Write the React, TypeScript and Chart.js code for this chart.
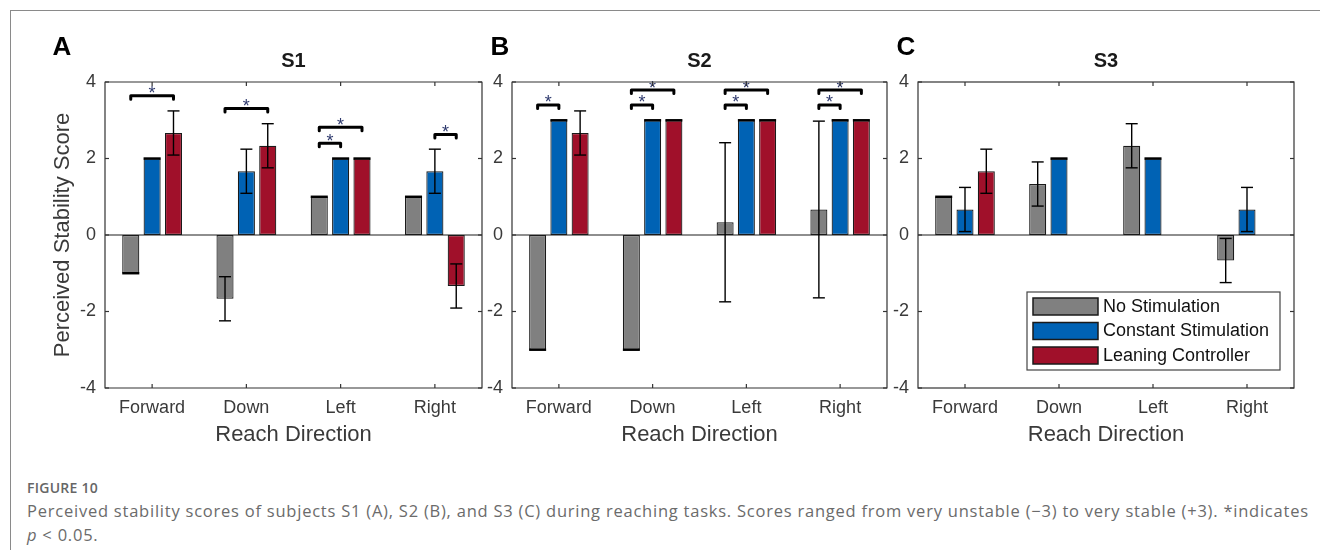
import React, { useEffect, useRef } from 'react';
import { Chart, registerables } from 'chart.js';

Chart.register(...registerables);

// ---- data ----
const directions = ['Forward', 'Down', 'Left', 'Right'];
const conditionNames = ['No Stimulation', 'Constant Stimulation', 'Leaning Controller'];
const conditionColors = ['#808080', '#0062b4', '#a0102a'];
const yTickValues = [-4, -2, 0, 2, 4];

// Subject S1: mean scores and error bar half-lengths
const s1NoStim = [-1, -1.667, 1, 1];
const s1Constant = [2, 1.667, 2, 1.667];
const s1Leaning = [2.667, 2.333, 2, -1.333];
const s1NoStimErr = [0, 0.577, 0, 0];
const s1ConstantErr = [0, 0.577, 0, 0.577];
const s1LeaningErr = [0.577, 0.577, 0, 0.577];

// Subject S2
const s2NoStim = [-3, -3, 0.333, 0.667];
const s2Constant = [3, 3, 3, 3];
const s2Leaning = [2.667, 3, 3, 3];
const s2NoStimErr = [0, 0, 2.08, 2.31];
const s2ConstantErr = [0, 0, 0, 0];
const s2LeaningErr = [0.577, 0, 0, 0];

// Subject S3 (no leaning-controller trials except Forward)
const s3NoStim = [1, 1.333, 2.333, -0.667];
const s3Constant = [0.667, 2, 2, 0.667];
const s3Leaning: (number | null)[] = [1.667, null, null, null];
const s3NoStimErr = [0, 0.577, 0.577, 0.577];
const s3ConstantErr = [0.577, 0, 0, 0.577];
const s3LeaningErr: (number | null)[] = [0.577, null, null, null];

// Significance brackets: [direction index, from condition, to condition, bracket height]
const s1Brackets: [number, number, number, number][] = [
  [0, 0, 2, 3.64],
  [1, 0, 2, 3.31],
  [2, 0, 1, 2.4],
  [2, 0, 2, 2.82],
  [3, 1, 2, 2.63],
];
const s2Brackets: [number, number, number, number][] = [
  [0, 0, 1, 3.4],
  [1, 0, 1, 3.4],
  [1, 0, 2, 3.79],
  [2, 0, 1, 3.4],
  [2, 0, 2, 3.79],
  [3, 0, 1, 3.4],
  [3, 0, 2, 3.79],
];
const s3Brackets: [number, number, number, number][] = [];

// ---- layout ----
const FONT = 'Arial, "Liberation Sans", Helvetica, sans-serif';
const AREA_TOP = 82;
const AREA_BOTTOM = 388;
const CANVAS_H = 470;
const Y_AXIS_W = 100;
const RIGHT_PAD = 20;

type Panel = {
  letter: string;
  title: string;
  values: (number | null)[][];
  errors: (number | null)[][];
  brackets: [number, number, number, number][];
  areaLeft: number;
  areaWidth: number;
  yTitle: boolean;
  legend: boolean;
};

const panels: Panel[] = [
  {
    letter: 'A', title: 'S1',
    values: [s1NoStim, s1Constant, s1Leaning],
    errors: [s1NoStimErr, s1ConstantErr, s1LeaningErr],
    brackets: s1Brackets, areaLeft: 105, areaWidth: 377, yTitle: true, legend: false,
  },
  {
    letter: 'B', title: 'S2',
    values: [s2NoStim, s2Constant, s2Leaning],
    errors: [s2NoStimErr, s2ConstantErr, s2LeaningErr],
    brackets: s2Brackets, areaLeft: 512, areaWidth: 375, yTitle: false, legend: false,
  },
  {
    letter: 'C', title: 'S3',
    values: [s3NoStim, s3Constant, s3Leaning],
    errors: [s3NoStimErr, s3ConstantErr, s3LeaningErr],
    brackets: s3Brackets, areaLeft: 918, areaWidth: 376, yTitle: false, legend: true,
  },
];

function line(ctx: CanvasRenderingContext2D, x1: number, y1: number, x2: number, y2: number) {
  ctx.beginPath();
  ctx.moveTo(x1, y1);
  ctx.lineTo(x2, y2);
  ctx.stroke();
}

function makeDecorPlugin(panel: Panel) {
  return {
    id: 'panelDecor' + panel.letter,
    beforeDatasetsDraw(chart: any) {
      const { ctx, chartArea: a, scales } = chart;
      const y0 = scales.y.getPixelForValue(0);
      ctx.save();
      ctx.strokeStyle = '#1e1e1e';
      ctx.lineWidth = 1.2;
      line(ctx, a.left, y0, a.right, y0);
      ctx.restore();
    },
    afterDatasetsDraw(chart: any) {
      const { ctx, chartArea: a, scales } = chart;
      const ys = scales.y;
      const xs = scales.x;
      ctx.save();

      // error bars
      ctx.strokeStyle = '#000';
      panel.values.forEach((vals, di) => {
        const meta = chart.getDatasetMeta(di);
        vals.forEach((v, j) => {
          if (v === null) return;
          const e = panel.errors[di][j] ?? 0;
          const bar = meta.data[j];
          const x = bar.x;
          const w = bar.width;
          if (e === 0) {
            ctx.lineWidth = 2.4;
            line(ctx, x - w / 2, ys.getPixelForValue(v), x + w / 2, ys.getPixelForValue(v));
            return;
          }
          const yt = ys.getPixelForValue(v + e);
          const yb = ys.getPixelForValue(v - e);
          ctx.lineWidth = 1.4;
          line(ctx, x, yt, x, yb);
          line(ctx, x - 6, yt, x + 6, yt);
          line(ctx, x - 6, yb, x + 6, yb);
        });
      });

      // significance brackets
      panel.brackets.forEach(([cat, from, to, h]) => {
        const x1 = chart.getDatasetMeta(from).data[cat].x;
        const x2 = chart.getDatasetMeta(to).data[cat].x;
        const yy = ys.getPixelForValue(h);
        ctx.strokeStyle = '#000';
        ctx.lineWidth = 3;
        ctx.lineCap = 'round';
        ctx.lineJoin = 'round';
        ctx.beginPath();
        ctx.moveTo(x1, yy + 3.5);
        ctx.lineTo(x1, yy);
        ctx.lineTo(x2, yy);
        ctx.lineTo(x2, yy + 3.5);
        ctx.stroke();
        ctx.fillStyle = '#2f3a6e';
        ctx.font = `18px ${FONT}`;
        ctx.textAlign = 'center';
        ctx.textBaseline = 'alphabetic';
        ctx.fillText('*', (x1 + x2) / 2, yy + 3.5);
      });
      ctx.lineCap = 'butt';

      // axes box with inward ticks
      ctx.strokeStyle = '#333';
      ctx.lineWidth = 1.2;
      ctx.strokeRect(a.left, a.top, a.right - a.left, a.bottom - a.top);
      yTickValues.forEach((t) => {
        const py = ys.getPixelForValue(t);
        line(ctx, a.left, py, a.left + 4, py);
        line(ctx, a.right - 4, py, a.right, py);
      });
      directions.forEach((_, j) => {
        const px = xs.getPixelForValue(j);
        line(ctx, px, a.bottom, px, a.bottom - 4);
        line(ctx, px, a.top, px, a.top + 4);
      });

      // legend
      if (panel.legend) {
        const lw = 253;
        const lh = 78;
        const lx = a.right - 14 - lw;
        const ly = a.bottom - 18 - lh;
        ctx.fillStyle = '#fff';
        ctx.fillRect(lx, ly, lw, lh);
        ctx.strokeStyle = '#444';
        ctx.lineWidth = 1.2;
        ctx.strokeRect(lx, ly, lw, lh);
        conditionNames.forEach((name, i) => {
          const sy = ly + 6 + i * 24.5;
          ctx.fillStyle = conditionColors[i];
          ctx.fillRect(lx + 6, sy, 65, 17);
          ctx.strokeStyle = '#1a1a1a';
          ctx.lineWidth = 1.5;
          ctx.strokeRect(lx + 6, sy, 65, 17);
          ctx.fillStyle = '#111';
          ctx.font = `18px ${FONT}`;
          ctx.textAlign = 'left';
          ctx.textBaseline = 'middle';
          ctx.fillText(name, lx + 76, sy + 9);
        });
      }

      // panel letter, subject title, axis titles
      const cx = (a.left + a.right) / 2;
      ctx.fillStyle = '#000';
      ctx.textBaseline = 'middle';
      ctx.textAlign = 'center';
      ctx.font = `bold 26px ${FONT}`;
      ctx.fillText(panel.letter, a.left - 43 + (panel.letter === 'A' ? 0 : 31), 48);
      ctx.fillStyle = '#1a1a1a';
      ctx.font = `bold 20px ${FONT}`;
      ctx.fillText(panel.title, cx, 61);
      ctx.fillStyle = '#3a3a3a';
      ctx.font = `22px ${FONT}`;
      ctx.fillText('Reach Direction', cx, 435);
      if (panel.yTitle) {
        ctx.save();
        ctx.translate(58, (a.top + a.bottom) / 2);
        ctx.rotate(-Math.PI / 2);
        ctx.fillText('Perceived Stability Score', 0, 0);
        ctx.restore();
      }
      ctx.restore();
    },
  };
}

function PanelChart({ panel }: { panel: Panel }) {
  const ref = useRef<HTMLCanvasElement | null>(null);
  const width = Y_AXIS_W + panel.areaWidth + RIGHT_PAD;

  useEffect(() => {
    if (!ref.current) return;
    const chart = new Chart(ref.current, {
      type: 'bar',
      data: {
        labels: directions,
        datasets: panel.values.map((vals, i) => ({
          label: conditionNames[i],
          data: vals,
          backgroundColor: conditionColors[i],
          borderColor: '#1a1a1a',
          borderWidth: 1.2,
          borderSkipped: false,
          categoryPercentage: 0.68,
          barPercentage: 0.8,
        })),
      },
      options: {
        responsive: false,
        animation: false,
        devicePixelRatio: 1,
        layout: { padding: { top: AREA_TOP, right: RIGHT_PAD, left: 0, bottom: 0 } },
        plugins: {
          legend: { display: false },
          title: { display: false },
          tooltip: { enabled: false },
        },
        scales: {
          x: {
            grid: { display: false, drawTicks: false },
            border: { display: false },
            ticks: {
              color: '#3a3a3a',
              font: { family: FONT, size: 18 },
              padding: 9,
              maxRotation: 0,
            },
            afterFit: (s: any) => {
              s.height = CANVAS_H - AREA_BOTTOM;
            },
          },
          y: {
            min: -4,
            max: 4,
            grid: { display: false, drawTicks: false },
            border: { display: false },
            ticks: {
              color: '#3a3a3a',
              font: { family: FONT, size: 18 },
              padding: 9,
            },
            afterBuildTicks: (s: any) => {
              s.ticks = yTickValues.map((v) => ({ value: v }));
            },
            afterFit: (s: any) => {
              s.width = Y_AXIS_W;
            },
          },
        },
      },
      plugins: [makeDecorPlugin(panel)],
    } as any);
    return () => chart.destroy();
  }, [panel]);

  return (
    <canvas
      ref={ref}
      width={width}
      height={CANVAS_H}
      style={{
        position: 'absolute',
        left: panel.areaLeft - Y_AXIS_W,
        top: 0,
        width,
        height: CANVAS_H,
      }}
    />
  );
}

const captionFont = '"Open Sans", Lato, "Noto Sans", sans-serif';

export default function App() {
  return (
    <div
      style={{
        position: 'fixed',
        left: 0,
        top: 0,
        width: 1320,
        height: 550,
        overflow: 'hidden',
        background: '#fff',
      }}
    >
      <div
        style={{
          position: 'absolute',
          left: 10,
          top: 10,
          width: 1330,
          height: 560,
          borderLeft: '1px solid #8a8a8a',
          borderTop: '1px solid #8a8a8a',
        }}
      />
      {panels.map((p) => (
        <PanelChart key={p.letter} panel={p} />
      ))}
      <div
        style={{
          position: 'absolute',
          left: 27,
          top: 478,
          fontFamily: captionFont,
          fontWeight: 600,
          fontSize: 14,
          letterSpacing: '0.25px',
          color: '#666',
          whiteSpace: 'nowrap',
        }}
      >
        FIGURE 10
      </div>
      <div
        style={{
          position: 'absolute',
          left: 27,
          top: 499,
          fontFamily: captionFont,
          fontSize: 16.5,
          letterSpacing: '0.77px',
          lineHeight: '24px',
          color: '#6b6b6b',
          whiteSpace: 'nowrap',
        }}
      >
        Perceived stability scores of subjects S1 (A), S2 (B), and S3 (C) during reaching tasks. Scores ranged from very
        unstable (−3) to very stable (+3). *indicates
        <br />
        <i>p</i> &lt; 0.05.
      </div>
    </div>
  );
}
